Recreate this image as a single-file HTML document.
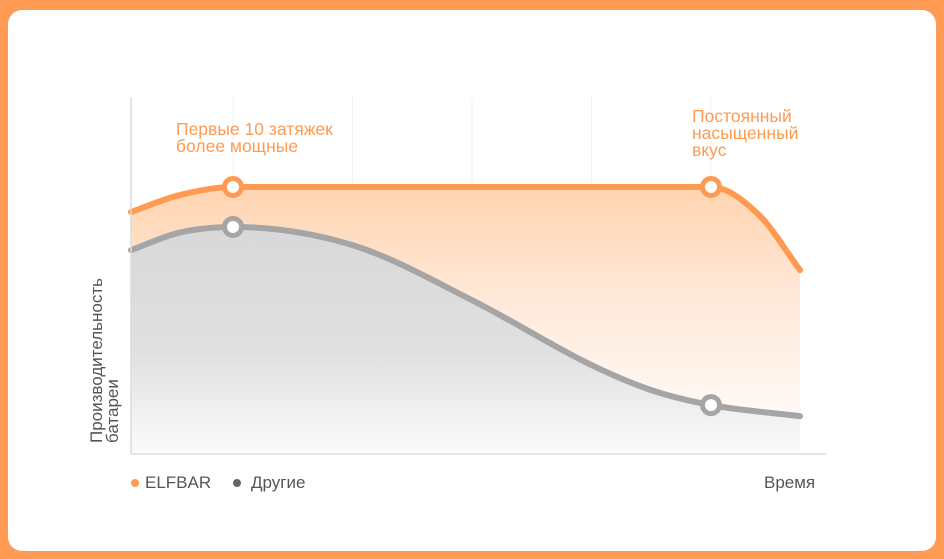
<!DOCTYPE html>
<html><head><meta charset="utf-8"><style>
html,body{margin:0;padding:0;background:#ff9a52;}
body{width:944px;height:559px;position:relative;overflow:hidden;font-family:"Liberation Sans","DejaVu Sans",sans-serif;}
#card{position:absolute;left:8px;top:10px;width:928px;height:541px;background:#fff;border-radius:14px;}
svg{position:absolute;left:0;top:0;}
</style></head><body>
<div id="card"></div>
<svg id="chart" width="944" height="559">
<defs>
<linearGradient id="gO" x1="0" y1="0" x2="0" y2="1"><stop offset="0" stop-color="#ffd4b0"/><stop offset="0.45" stop-color="#ffeadb"/><stop offset="1" stop-color="#ffffff"/></linearGradient>
<linearGradient id="gG" x1="0" y1="0" x2="0" y2="1"><stop offset="0" stop-color="#d8d8d8"/><stop offset="0.55" stop-color="#e0e0e0"/><stop offset="1" stop-color="#fbfbfb"/></linearGradient>
</defs>
<g id="grid"></g><g id="areas"></g><g id="lines"></g><g id="marks"></g>
<line x1="131" y1="97" x2="131" y2="454" stroke="#dcdcdc" stroke-width="1.5"/>
<line x1="131" y1="454" x2="826" y2="454" stroke="#dcdcdc" stroke-width="1.5"/>
<text x="176" y="135" fill="#ff9a52" font-size="17.5"><tspan x="176">Первые 10 затяжек</tspan><tspan x="176" dy="17">более мощные</tspan></text>
<text x="692" y="122" fill="#ff9a52" font-size="17.5"><tspan x="692">Постоянный</tspan><tspan x="692" dy="17">насыщенный</tspan><tspan x="692" dy="17">вкус</tspan></text>
<text transform="translate(102,443) rotate(-90)" fill="#555" font-size="17"><tspan x="0" y="0">Производительность</tspan><tspan x="0" y="16">батареи</tspan></text>
<text x="764" y="488" fill="#555" font-size="17">Время</text>
<circle cx="135" cy="483" r="4" fill="#ff9a52"/>
<text x="145" y="488" fill="#555" font-size="17">ELFBAR</text>
<circle cx="237" cy="483" r="4" fill="#666"/>
<text x="251" y="488" fill="#555" font-size="17">Другие</text>
</svg>
<script>
const gridTimes=[1,2,3,4,5];
const elfTimes=[0.146,0.55,1,3,5,5.4,5.745];
const elfValues=[67.8,72.5,74.8,74.8,74.8,67,51.5];
const otherTimes=[0.146,0.55,1,2,3,4,4.5,5,5.745];
const otherValues=[57.1,62,63.6,58.5,43.1,24.9,17.9,13.7,10.6];
const elfMarkers=[1,5];
const otherMarkers=[1,5];
const xs=t=>113.5+119.5*t;
const ys=v=>454-3.57*v;
const NS="http://www.w3.org/2000/svg";
function tangents(x,y){const n=x.length,d=[],m=[];
for(let i=0;i<n-1;i++)d.push((y[i+1]-y[i])/(x[i+1]-x[i]));
m[0]=d[0];m[n-1]=d[n-2];
for(let i=1;i<n-1;i++){m[i]=(d[i-1]*d[i]<=0)?0:(d[i-1]+d[i])/2;}
for(let i=0;i<n-1;i++){if(d[i]===0){m[i]=0;m[i+1]=0;continue;}const a=m[i]/d[i],b=m[i+1]/d[i],s=a*a+b*b;if(s>9){const t=3/Math.sqrt(s);m[i]=t*a*d[i];m[i+1]=t*b*d[i];}}
return m;}
function path(ts,vs){const x=ts.map(xs),y=vs.map(ys),m=tangents(x,y);let d="M"+x[0]+","+y[0];
for(let i=0;i<x.length-1;i++){const h=(x[i+1]-x[i])/3;d+=" C"+(x[i]+h)+","+(y[i]+m[i]*h)+" "+(x[i+1]-h)+","+(y[i+1]-m[i+1]*h)+" "+x[i+1]+","+y[i+1];}return d;}
function interp(ts,vs,t){for(let i=0;i<ts.length;i++){if(ts[i]===t)return vs[i];}for(let i=0;i<ts.length-1;i++){if(t>=ts[i]&&t<=ts[i+1]){return vs[i]+(vs[i+1]-vs[i])*(t-ts[i])/(ts[i+1]-ts[i]);}}return vs[vs.length-1];}
const g=document.getElementById('grid');
gridTimes.forEach(t=>{const l=document.createElementNS(NS,'line');l.setAttribute('x1',xs(t));l.setAttribute('x2',xs(t));l.setAttribute('y1',97);l.setAttribute('y2',454);l.setAttribute('stroke','#f0f0f0');


g.appendChild(l);});
const A=document.getElementById('areas'),L=document.getElementById('lines'),M=document.getElementById('marks');
function series(ts,vs,fill,stroke,name,markers){
const a=document.createElementNS(NS,'path');a.setAttribute('d',path(ts,vs)+" L"+xs(ts[ts.length-1])+",454 L"+xs(ts[0])+",454 Z");a.setAttribute('fill',fill);


A.appendChild(a);
const l=document.createElementNS(NS,'path');l.setAttribute('d',path(ts,vs));l.setAttribute('fill','none');l.setAttribute('stroke',stroke);l.setAttribute('stroke-width','6');l.setAttribute('stroke-linecap','round');


L.appendChild(l);
markers.forEach(t=>{const c=document.createElementNS(NS,'circle');c.setAttribute('cx',xs(t));c.setAttribute('cy',ys(interp(ts,vs,t)));c.setAttribute('r','8.5');c.setAttribute('fill','#fff');c.setAttribute('stroke',stroke);c.setAttribute('stroke-width','5');


M.appendChild(c);});}
series(elfTimes,elfValues,'url(#gO)','#ff9a52','elfbar',elfMarkers);
series(otherTimes,otherValues,'url(#gG)','#a5a5a5','others',otherMarkers);
</script>
</body></html>
